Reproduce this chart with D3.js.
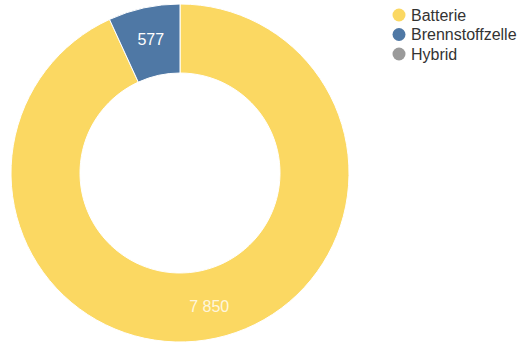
<!DOCTYPE html>
<html>
<head>
<meta charset="utf-8">
<script src="https://cdn.jsdelivr.net/npm/d3@7"></script>
<style>
  body { margin: 0; background: #fff; }
  svg { display: block; font-family: "Liberation Sans", Arial, sans-serif; }
</style>
</head>
<body>
<svg id="chart" width="526" height="344"></svg>
<script>
const categories = ["Batterie", "Brennstoffzelle", "Hybrid"];
const values = [7850, 577, 0];
const colors = ["#fbd862", "#4f78a5", "#9a9a9a"];

const data = categories.map((c, i) => ({ name: c, value: values[i] }));

const svg = d3.select("#chart");
const cx = 180, cy = 173;
const rOuter = 169, rInner = 100, rLabel = 137;

const color = d3.scaleOrdinal().domain(categories).range(colors);
const fmt = d3.formatLocale({ decimal: ",", thousands: " ", grouping: [3], currency: ["", "€"] }).format(",d");

const pie = d3.pie().sort(null).value(d => d.value);
const arc = d3.arc().innerRadius(rInner).outerRadius(rOuter);
const labelArc = d3.arc().innerRadius(rLabel).outerRadius(rLabel);

const g = svg.append("g").attr("transform", "translate(" + cx + "," + cy + ")");
const arcs = pie(data);

g.selectAll("path")
    .data(arcs.filter(d => d.value > 0))
    .enter().append("path")
    .attr("d", arc)
    .attr("fill", d => color(d.data.name))
    .attr("stroke", "#fff")
    .attr("stroke-width", 1);

g.selectAll("text")
    .data(arcs.filter(d => d.value > 0))
    .enter().append("text")
    .attr("transform", d => "translate(" + labelArc.centroid(d) + ")")
    .attr("text-anchor", "middle")
    .attr("dy", "0.35em")
    .attr("fill", "#fff")
    .attr("fill-opacity", d => d.data.name === "Batterie" ? 0.8 : 1)
    .style("font-size", "16px")
    .text(d => fmt(d.value));

// legend
const legend = svg.append("g").attr("transform", "translate(399,15)");
const item = legend.selectAll("g")
    .data(categories)
    .enter().append("g")
    .attr("transform", (d, i) => "translate(0," + (i * 19.5) + ")");

item.append("circle")
    .attr("r", 6.5)
    .attr("fill", d => color(d));

item.append("text")
    .attr("x", 12)
    .attr("dy", "0.35em")
    .attr("fill", "#333")
    .style("font-size", "16px")
    .text(d => d);
</script>
</body>
</html>
